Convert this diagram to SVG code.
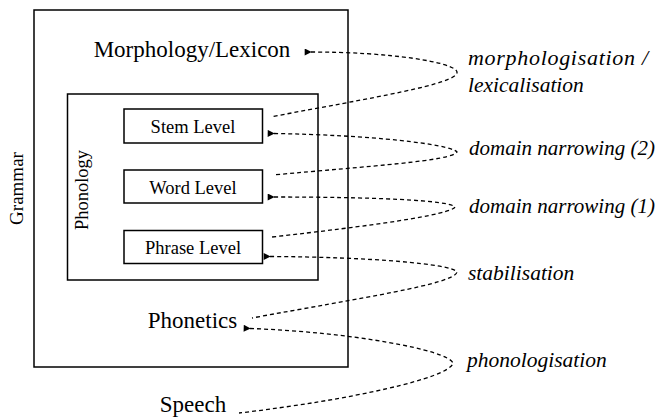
<svg xmlns="http://www.w3.org/2000/svg" width="661" height="419" viewBox="0 0 661 419">
<style>
.box{fill:none;stroke:#000;stroke-width:1.5}
.big{font-size:23px}
.lvl{font-size:18.5px}
.side{font-size:19px}
.it{font-style:italic;font-size:21.5px}
.c{fill:none;stroke:#000;stroke-width:1.3;stroke-dasharray:4 3}
</style>
<defs>
<marker id="ah" viewBox="0 0 10 10" refX="1" refY="5" markerWidth="8" markerHeight="7" markerUnits="userSpaceOnUse" orient="auto-start-reverse">
<path d="M10,0 L0,5 L10,10 z" fill="#000"/>
</marker>
</defs>
<rect fill="#fff" x="0" y="0" width="661" height="419"/>
<g font-family="Liberation Serif, Times New Roman, DejaVu Serif, serif" fill="#000">
<g id="grammar">
<rect class="box" x="34" y="10" width="314" height="357"/>
<text class="side" text-anchor="middle" transform="translate(22.5,188.5) rotate(-90)">Grammar</text>
</g>
<g id="morphology">
<text class="big" x="192" y="56.5" text-anchor="middle">Morphology/Lexicon</text>
</g>
<g id="phonology">
<rect class="box" x="67.5" y="94" width="250.5" height="186"/>
<text class="lvl" text-anchor="middle" transform="translate(88,190) rotate(-90)">Phonology</text>
</g>
<g id="stem">
<rect class="box" x="124" y="109" width="138.5" height="34"/>
<text class="lvl" x="193" y="133.3" text-anchor="middle">Stem Level</text>
</g>
<g id="word">
<rect class="box" x="124" y="170" width="138.5" height="33"/>
<text class="lvl" x="193" y="194" text-anchor="middle">Word Level</text>
</g>
<g id="phrase">
<rect class="box" x="124" y="230.5" width="138.5" height="33"/>
<text class="lvl" x="193" y="254" text-anchor="middle">Phrase Level</text>
</g>
<g id="phonetics">
<text class="big" x="192.5" y="328" text-anchor="middle">Phonetics</text>
</g>
<g id="speech">
<text class="big" x="193" y="411.5" text-anchor="middle">Speech</text>
</g>
<g id="connectors">
<path class="c" marker-start="url(#ah)" d="M311,52 C390,52 455,62 457,72 C459,84 370,98 273,116.5"/>
<path class="c" marker-start="url(#ah)" d="M274,133.5 C370,135 450,144 457,152 C452,161 370,166 273,175"/>
<path class="c" marker-start="url(#ah)" d="M274,197 C370,197 450,200 455,207 C450,215 370,226 272,237"/>
<path class="c" marker-start="url(#ah)" d="M270,256.5 C370,257 452,264 457,272 C455,284 360,298 252,318"/>
<path class="c" marker-start="url(#ah)" d="M250,328.5 C350,332 448,350 453,363 C450,378 350,400 239,413"/>
</g>
<g id="labels">
<text class="it" x="468" y="65" style="font-size:22px" textLength="180" lengthAdjust="spacing">morphologisation /</text>
<text class="it" x="468" y="91.5">lexicalisation</text>
<text class="it" x="469" y="155" style="font-size:21px">domain narrowing (2)</text>
<text class="it" x="469" y="213" style="font-size:21px">domain narrowing (1)</text>
<text class="it" x="468" y="279.5">stabilisation</text>
<text class="it" x="467" y="366.5">phonologisation</text>
</g>
</g>
</svg>
